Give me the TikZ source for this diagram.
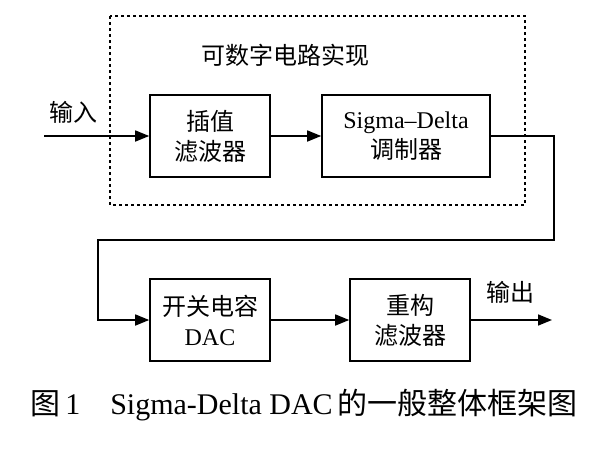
\documentclass[tikz,border=0pt]{standalone}
\usepackage{fontspec}
\setmainfont{Liberation Serif}
\newfontfamily\cjk{Noto Sans CJK SC}
\usetikzlibrary{arrows.meta}
\begin{document}
\begin{tikzpicture}[x=1pt,y=-1pt,
  box/.style={draw,line width=1.6pt,minimum width=120pt,minimum height=82pt,align=center,font=\fontsize{24}{30}\selectfont,inner sep=0pt},
  arr/.style={line width=1.6pt,-{Triangle[length=14pt,width=11pt]}},
  lbl/.style={font=\cjk\fontsize{24}{28}\selectfont}]
\useasboundingbox (0,0) rectangle (600,450);
\draw[line width=1.4pt,dash pattern=on 3pt off 3pt] (110,16) rectangle (525,205);
\node[lbl] (t) at (285,55) {可数字电路实现};
\node[box] (b1) at (210,136) {{\cjk 插值}\\{\cjk 滤波器}};
\node[box,minimum width=168pt] (b2) at (406,136) {Sigma–Delta\\{\cjk 调制器}};
\node[box] (b3) at (210,320) {{\cjk 开关电容}\\DAC};
\node[box] (b4) at (410,320) {{\cjk 重构}\\{\cjk 滤波器}};
\node[lbl] (in) at (73,112) {输入};
\node[lbl] (out) at (510,292) {输出};
\coordinate (s) at (44,136);
\coordinate (e) at (552,320);
\draw[arr] (s) -- (b1);
\draw[arr] (b1) -- (b2);
\draw[arr] (b2.east) -- ++(63,0) |- (98,240) |- (b3.west);
\draw[arr] (b3) -- (b4);
\draw[arr] (b4) -- (e);
\node[font=\fontsize{30}{36}\selectfont] (cap) at (304,405) {{\cjk 图}\,1\quad Sigma-Delta DAC\,{\cjk 的一般整体框架图}};
\end{tikzpicture}
\end{document}
